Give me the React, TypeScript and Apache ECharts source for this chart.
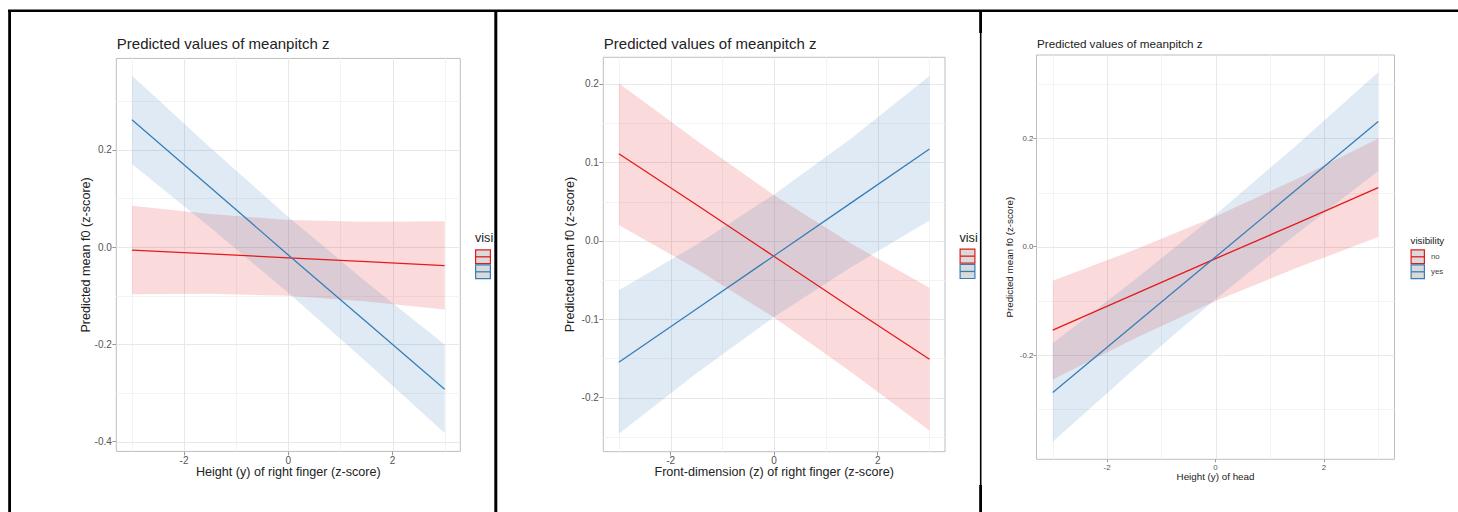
import React, { useEffect, useRef } from "react";
import * as echarts from "echarts";

// ---------- data ----------
const xs = [-3, -1.5, 0, 1.5, 3];
const groups = ["no", "yes"];

// Panel 1: Height (y) of right finger
const p1NoFit = [-0.006, -0.014, -0.022, -0.03, -0.038];
const p1NoUpper = [0.085, 0.068, 0.056, 0.052, 0.053];
const p1NoLower = [-0.097, -0.096, -0.1, -0.112, -0.128];
const p1YesFit = [0.262, 0.123, -0.016, -0.154, -0.292];
const p1YesUpper = [0.353, 0.205, 0.062, -0.072, -0.2];
const p1YesLower = [0.171, 0.041, -0.094, -0.236, -0.382];

// Panel 2: Front-dimension (z) of right finger
const p2NoFit = [0.111, 0.046, -0.02, -0.086, -0.151];
const p2NoUpper = [0.201, 0.128, 0.058, -0.004, -0.06];
const p2NoLower = [0.02, -0.036, -0.098, -0.168, -0.242];
const p2YesFit = [-0.155, -0.087, -0.019, 0.049, 0.117];
const p2YesUpper = [-0.063, -0.005, 0.059, 0.131, 0.21];
const p2YesLower = [-0.246, -0.169, -0.097, -0.033, 0.026];

// Panel 3: Height (y) of head
const p3NoFit = [-0.154, -0.088, -0.022, 0.043, 0.109];
const p3NoUpper = [-0.063, -0.006, 0.056, 0.125, 0.2];
const p3NoLower = [-0.245, -0.17, -0.1, -0.039, 0.018];
const p3YesFit = [-0.269, -0.144, -0.019, 0.106, 0.231];
const p3YesUpper = [-0.178, -0.062, 0.059, 0.188, 0.322];
const p3YesLower = [-0.36, -0.226, -0.097, 0.024, 0.14];

// ticks
const xTicks = [-2, 0, 2];
const xMinor = [-3, -1, 1, 3];
const p1YTicks = [-0.4, -0.2, 0, 0.2];
const p1YMinor = [-0.3, -0.1, 0.1, 0.3];
const p2YTicks = [-0.2, -0.1, 0, 0.1, 0.2];
const p2YMinor = [-0.25, -0.15, -0.05, 0.05, 0.15];
const p3YTicks = [-0.2, 0, 0.2];
const p3YMinor = [-0.3, -0.1, 0.1, 0.3];

// texts
const titleText = "Predicted values of meanpitch z";
const xNames = [
  "Height (y) of right finger (z-score)",
  "Front-dimension (z) of right finger (z-score)",
  "Height (y) of head",
];
const yName = "Predicted mean f0 (z-score)";
const legendTitles = ["visi", "visi", "visibility"];

// ---------- style ----------
const FONT = '"Liberation Sans", Arial, Helvetica, sans-serif';
const RED = "#E41A1C";
const BLUE = "#377EB8";
const RED_FILL = "rgba(228,26,28,0.16)";
const BLUE_FILL = "rgba(55,126,184,0.16)";
const colors = [RED, BLUE];

type PanelCfg = {
  left: number; top: number; width: number; height: number;
  yMin: number; yMax: number; yTicks: number[]; yMinor: number[];
  tickFont: number; nameFont: number; titleFont: number;
  titleTop: number; xNameGap: number; yNameGap: number;
  xLabelMargin: number; yLabelMargin: number; tickLen: number;
  no: number[][]; yes: number[][];
};

const panels: PanelCfg[] = [
  {
    left: 116.3, top: 58.4, width: 344, height: 393,
    yMin: -0.42, yMax: 0.388, yTicks: p1YTicks, yMinor: p1YMinor,
    tickFont: 10, nameFont: 12.6, titleFont: 15, titleTop: 36,
    xNameGap: 14, yNameGap: 24, xLabelMargin: 4, yLabelMargin: 4.5, tickLen: 4,
    no: [p1NoFit, p1NoLower, p1NoUpper], yes: [p1YesFit, p1YesLower, p1YesUpper],
  },
  {
    left: 603.3, top: 57.3, width: 341.7, height: 394.4,
    yMin: -0.269, yMax: 0.234, yTicks: p2YTicks, yMinor: p2YMinor,
    tickFont: 10, nameFont: 12.6, titleFont: 15, titleTop: 36,
    xNameGap: 14, yNameGap: 26.5, xLabelMargin: 4, yLabelMargin: 4.5, tickLen: 4,
    no: [p2NoFit, p2NoLower, p2NoUpper], yes: [p2YesFit, p2YesLower, p2YesUpper],
  },
  {
    left: 1036.5, top: 55, width: 358, height: 404.3,
    yMin: -0.3925, yMax: 0.354, yTicks: p3YTicks, yMinor: p3YMinor,
    tickFont: 7.8, nameFont: 9.8, titleFont: 11.7, titleTop: 37.5,
    xNameGap: 12, yNameGap: 22, xLabelMargin: 4.5, yLabelMargin: 3.2, tickLen: 3,
    no: [p3NoFit, p3NoLower, p3NoUpper], yes: [p3YesFit, p3YesLower, p3YesUpper],
  },
];

function gridLineSeries(idx: number, vertical: boolean, values: number[], color: string, width: number) {
  return {
    type: "custom",
    xAxisIndex: idx,
    yAxisIndex: idx,
    silent: true,
    z: 1,
    data: values.map((v) => [v]),
    renderItem: (params: any, api: any) => {
      const cs = params.coordSys;
      const v = api.value(0);
      if (vertical) {
        const px = Math.round(api.coord([v, 0])[0]) + 0.5;
        return {
          type: "line",
          shape: { x1: px, y1: cs.y, x2: px, y2: cs.y + cs.height },
          style: { stroke: color, lineWidth: width },
        };
      }
      const py = Math.round(api.coord([0, v])[1]) + 0.5;
      return {
        type: "line",
        shape: { x1: cs.x, y1: py, x2: cs.x + cs.width, y2: py },
        style: { stroke: color, lineWidth: width },
      };
    },
  };
}

function bandSeries(idx: number, name: string, lower: number[], upper: number[], fill: string) {
  return {
    type: "custom",
    name,
    xAxisIndex: idx,
    yAxisIndex: idx,
    silent: true,
    z: 2,
    data: xs.map((x, i) => [x, lower[i], upper[i]]),
    encode: { x: 0, y: [1, 2] },
    renderItem: (params: any, api: any) => {
      if (params.dataIndex !== 0) return null;
      const pts: number[][] = [];
      for (let i = 0; i < xs.length; i++) pts.push(api.coord([xs[i], upper[i]]));
      for (let i = xs.length - 1; i >= 0; i--) pts.push(api.coord([xs[i], lower[i]]));
      return { type: "polygon", shape: { points: pts }, style: { fill } };
    },
  };
}

function lineSeries(idx: number, name: string, fit: number[], color: string) {
  return {
    type: "line",
    name,
    xAxisIndex: idx,
    yAxisIndex: idx,
    silent: true,
    z: 3,
    data: xs.map((x, i) => [x, fit[i]]),
    showSymbol: false,
    symbol: "none",
    lineStyle: { color, width: 1.3 },
  };
}

function legendGraphics(x: number, titleY: number, title: string, titleSize: number, keyY: number,
  keyW: number, keyH: number, labelSize: number, showLabels: boolean) {
  const els: any[] = [];
  els.push({
    type: "text", x, y: titleY, z: 10,
    style: { text: title, font: `${titleSize}px ${FONT}`, fill: "#222", verticalAlign: "middle" },
  });
  groups.forEach((g, i) => {
    const y = keyY + i * keyH;
    els.push({
      type: "rect", z: 10,
      shape: { x: x + 0.6, y: y + 0.6, width: keyW - 1.2, height: keyH - 1.2 },
      style: { fill: "#DADADA", stroke: colors[i], lineWidth: 1.2 },
    });
    els.push({
      type: "line", z: 10,
      shape: { x1: x + 0.6, y1: y + keyH / 2, x2: x + keyW - 0.6, y2: y + keyH / 2 },
      style: { stroke: colors[i], lineWidth: 1.3 },
    });
    if (showLabels) {
      els.push({
        type: "text", x: x + keyW + 6, y: y + keyH / 2, z: 10,
        style: { text: g, font: `${labelSize}px ${FONT}`, fill: "#444", verticalAlign: "middle" },
      });
    }
  });
  return els;
}

export default function App() {
  const ref = useRef<HTMLDivElement>(null);

  useEffect(() => {
    document.body.style.margin = "0";
    if (!ref.current) return;
    const chart = echarts.init(ref.current, undefined, { renderer: "svg" });

    const grids: any[] = [];
    const xAxes: any[] = [];
    const yAxes: any[] = [];
    const series: any[] = [];
    const titles: any[] = [];

    panels.forEach((p, idx) => {
      grids.push({
        left: p.left, top: p.top, width: p.width, height: p.height,
        show: true, borderColor: "#BDBDBD", borderWidth: 1, backgroundColor: "transparent",
        containLabel: false, outerBoundsMode: "none",
      });
      xAxes.push({
        type: "value", gridIndex: idx, min: -3.3, max: 3.3,
        name: xNames[idx], nameLocation: "middle", nameGap: p.xNameGap, nameMoveOverlap: false,
        nameTextStyle: { fontSize: p.nameFont, fontFamily: FONT, color: "#222" },
        axisLine: { show: false, onZero: false },
        axisTick: { show: true, customValues: xTicks, length: p.tickLen, lineStyle: { color: "#999", width: 1 } },
        axisLabel: {
          show: true, customValues: xTicks, margin: p.xLabelMargin,
          fontSize: p.tickFont, fontFamily: FONT, color: "#555",
          formatter: (v: number) => String(v),
        },
        splitLine: { show: false },
        minorTick: { show: false },
        minorSplitLine: { show: false },
      });
      yAxes.push({
        type: "value", gridIndex: idx, min: p.yMin, max: p.yMax,
        name: yName, nameLocation: "middle", nameGap: p.yNameGap, nameMoveOverlap: false,
        nameTextStyle: { fontSize: p.nameFont, fontFamily: FONT, color: "#222" },
        axisLine: { show: false, onZero: false },
        axisTick: { show: true, customValues: p.yTicks, length: p.tickLen, lineStyle: { color: "#999", width: 1 } },
        axisLabel: {
          show: true, customValues: p.yTicks, margin: p.yLabelMargin,
          fontSize: p.tickFont, fontFamily: FONT, color: "#555",
          formatter: (v: number) => v.toFixed(1),
        },
        splitLine: { show: false },
        minorTick: { show: false },
        minorSplitLine: { show: false },
      });
      titles.push({
        text: titleText, left: p.left + 0.5, top: p.titleTop, padding: 0,
        textStyle: { fontSize: p.titleFont, fontWeight: "normal", fontFamily: FONT, color: "#222" },
      });

      series.push(gridLineSeries(idx, true, xMinor, "#F3F3F3", 1));
      series.push(gridLineSeries(idx, false, p.yMinor, "#F3F3F3", 1));
      series.push(gridLineSeries(idx, true, xTicks, "#E8E8E8", 1));
      series.push(gridLineSeries(idx, false, p.yTicks, "#E8E8E8", 1));
      series.push(bandSeries(idx, groups[0], p.no[1], p.no[2], RED_FILL));
      series.push(bandSeries(idx, groups[1], p.yes[1], p.yes[2], BLUE_FILL));
      series.push(lineSeries(idx, groups[0], p.no[0], RED));
      series.push(lineSeries(idx, groups[1], p.yes[0], BLUE));
    });

    const graphic: any[] = [
      ...legendGraphics(475, 237.5, legendTitles[0], 12.6, 249.3, 16, 15, 10, false),
      ...legendGraphics(959.5, 237.5, legendTitles[1], 12.6, 248.5, 16, 15.3, 10, false),
      ...legendGraphics(1410.5, 240, legendTitles[2], 9.8, 249.3, 14.5, 15, 7.8, true),
      // black frame lines
      { type: "line", z: 20, shape: { x1: 8, y1: 10.8, x2: 1458, y2: 10.8 }, style: { stroke: "#000", lineWidth: 2.6 } },
      { type: "line", z: 20, shape: { x1: 9.6, y1: 10, x2: 9.6, y2: 512 }, style: { stroke: "#000", lineWidth: 2.8 } },
      { type: "line", z: 20, shape: { x1: 495.8, y1: 10, x2: 495.8, y2: 512 }, style: { stroke: "#000", lineWidth: 3 } },
      { type: "line", z: 20, shape: { x1: 980.7, y1: 10, x2: 980.7, y2: 512 }, style: { stroke: "#000", lineWidth: 1.6 } },
      { type: "line", z: 20, shape: { x1: 980.6, y1: 10, x2: 980.6, y2: 33 }, style: { stroke: "#000", lineWidth: 2.8 } },
      { type: "line", z: 20, shape: { x1: 980.6, y1: 485, x2: 980.6, y2: 512 }, style: { stroke: "#000", lineWidth: 2.8 } },
    ];

    chart.setOption({
      animation: false,
      backgroundColor: "#ffffff",
      textStyle: { fontFamily: FONT },
      title: titles,
      grid: grids,
      xAxis: xAxes,
      yAxis: yAxes,
      series,
      graphic,
    });

    return () => {
      chart.dispose();
    };
  }, []);

  return (
    <div
      ref={ref}
      style={{ position: "fixed", left: 0, top: 0, width: 1458, height: 512, background: "#fff" }}
    />
  );
}
